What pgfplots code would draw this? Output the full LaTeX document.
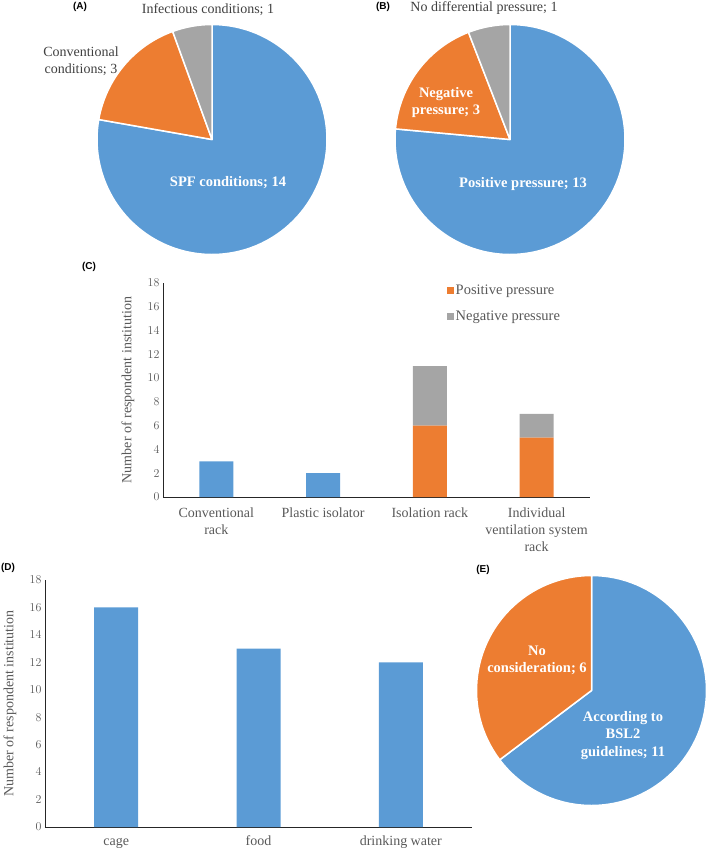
\documentclass[border=0pt]{standalone}
\usepackage{pgfplots}
\pgfplotsset{compat=1.18}
\usepackage{fontspec}
\setmainfont{Liberation Serif}
\newfontfamily\panelfont{Liberation Sans}

\definecolor{pblue}{HTML}{5B9BD5}
\definecolor{porange}{HTML}{ED7D31}
\definecolor{pgray}{HTML}{A5A5A5}
\definecolor{txt}{HTML}{595959}
\definecolor{dtxt}{HTML}{404040}

% common look of the two bar panels
\pgfplotsset{
  barax/.style={
    scale only axis,
    axis lines*=left,
    axis line style={-, black!85, line width=0.9pt},
    ymin=0, ymax=18, ytick={0,2,...,18},
    major tick length=0pt,
    tick label style={text=txt},
    yticklabel style={font=\fontsize{12}{13}\selectfont},
    xticklabel style={font=\fontsize{14}{17}\selectfont, align=center, yshift=-7pt},
    ylabel={Number of respondent institution},
    every axis y label/.style={at={(axis description cs:-0.082,0.5)}, rotate=90,
      anchor=center, font=\fontsize{14}{16}\selectfont, text=txt},
    ybar stacked, xtick=data,
  },
  pieax/.style={hide axis, x=1pt, y=1pt, xmin=-120, xmax=120, ymin=-120, ymax=120,
    anchor=center, clip=false},
}

% one pie wedge, clockwise from #1 to #2 (degrees)
\newcommand\slice[3]{%
  \fill[#3, draw=white, line width=1.5pt, line join=round]
    (axis cs:0,0) -- ([shift={(#1:115pt)}]axis cs:0,0)
    arc[start angle=#1, end angle=#2, radius=115pt] -- cycle;}

\newcommand\lbl{\fontsize{14}{17.5}\selectfont}
\newcommand\blbl{\fontsize{14.5}{17.5}\selectfont\bfseries}
\newcommand\plbl{\panelfont\bfseries\fontsize{10}{12}\selectfont}

\begin{document}
\begin{tikzpicture}
\useasboundingbox (0,0) rectangle (709pt,-852pt);

% ---- (A) housing conditions: SPF 14, conventional 3, infectious 1
\pgfmathsetmacro\Atot{14+3+1}
\pgfmathsetmacro\Aone{90-360*14/\Atot}
\pgfmathsetmacro\Atwo{\Aone-360*3/\Atot}
\pgfmathsetmacro\Athr{\Atwo-360*1/\Atot}
\begin{axis}[pieax, at={(212pt,-139.5pt)}]
  \slice{90}{\Aone}{pblue}
  \slice{\Aone}{\Atwo}{porange}
  \slice{\Atwo}{\Athr}{pgray}
\end{axis}

% ---- (B) pressure: positive 13, negative 3, none 1
\pgfmathsetmacro\Btot{13+3+1}
\pgfmathsetmacro\Bone{90-360*13/\Btot}
\pgfmathsetmacro\Btwo{\Bone-360*3/\Btot}
\pgfmathsetmacro\Bthr{\Btwo-360*1/\Btot}
\begin{axis}[pieax, at={(510pt,-139.5pt)}]
  \slice{90}{\Bone}{pblue}
  \slice{\Bone}{\Btwo}{porange}
  \slice{\Btwo}{\Bthr}{pgray}
\end{axis}

% ---- (C) rack types
\begin{axis}[barax, at={(163pt,-497pt)}, anchor=south west,
  width=427pt, height=214pt, xmin=0.5, xmax=4.5, bar width=34pt,
  xticklabels={Conventional\\rack, Plastic isolator, Isolation rack,
    Individual\\ventilation system\\rack},
  legend image code/.code={\fill[#1] (0pt,-3.5pt) rectangle (7pt,3.5pt);},
  legend style={draw=none, fill=none, at={(axis description cs:0.664,1.0)},
    anchor=north west, font=\fontsize{14.5}{16}\selectfont, text=txt, row sep=11pt,
    inner xsep=0pt, inner ysep=0pt},
  legend cell align=left]
  \addplot[fill=pblue, draw=none, forget plot] coordinates {(1,3) (2,2) (3,0) (4,0)};
  \addplot[fill=porange, draw=none] coordinates {(1,0) (2,0) (3,6) (4,5)};
  \addlegendentry{Positive pressure}
  \addplot[fill=pgray, draw=none] coordinates {(1,0) (2,0) (3,5) (4,2)};
  \addlegendentry{Negative pressure}
\end{axis}

% ---- (D) items
\begin{axis}[barax, at={(45pt,-827pt)}, anchor=south west,
  width=427pt, height=247pt, xmin=0.5, xmax=3.5, bar width=44pt,
  xticklabels={cage, food, drinking water},
  xticklabel style={text height=10pt, text depth=3pt, yshift=2pt}]
  \addplot[fill=pblue, draw=none] coordinates {(1,16) (2,13) (3,12)};
\end{axis}

% ---- (E) BSL2: according 11, none 6
\pgfmathsetmacro\Etot{11+6}
\pgfmathsetmacro\Eone{90-360*11/\Etot}
\pgfmathsetmacro\Etwo{\Eone-360*6/\Etot}
\begin{axis}[pieax, at={(591.5pt,-690.5pt)}]
  \slice{90}{\Eone}{pblue}
  \slice{\Eone}{\Etwo}{porange}
\end{axis}

% ---- labels
\node[font=\plbl] at (80pt,-7pt) {(A)};
\node[font=\plbl] at (383pt,-7pt) {(B)};
\node[font=\plbl] at (89pt,-267pt) {(C)};
\node[font=\plbl] at (8pt,-568pt) {(D)};
\node[font=\plbl] at (483pt,-570pt) {(E)};

\node[font=\lbl, text=dtxt] at (208pt,-9.5pt) {Infectious conditions; 1};
\node[font=\lbl, text=dtxt, align=center] at (81pt,-61pt) {Conventional\\conditions; 3};
\node[font=\blbl, text=white] at (228pt,-183pt) {SPF conditions; 14};

\node[font=\lbl, text=dtxt] at (484pt,-8pt) {No differential pressure; 1};
\node[font=\blbl, text=white, align=center] at (446pt,-102.5pt) {Negative\\pressure; 3};
\node[font=\blbl, text=white] at (523pt,-184pt) {Positive pressure; 13};

\node[font=\blbl, text=white, align=center] at (537pt,-660.5pt) {No\\consideration; 6};
\node[font=\blbl, text=white, align=center] at (623pt,-735.5pt) {According to\\BSL2\\guidelines; 11};
\end{tikzpicture}
\end{document}
